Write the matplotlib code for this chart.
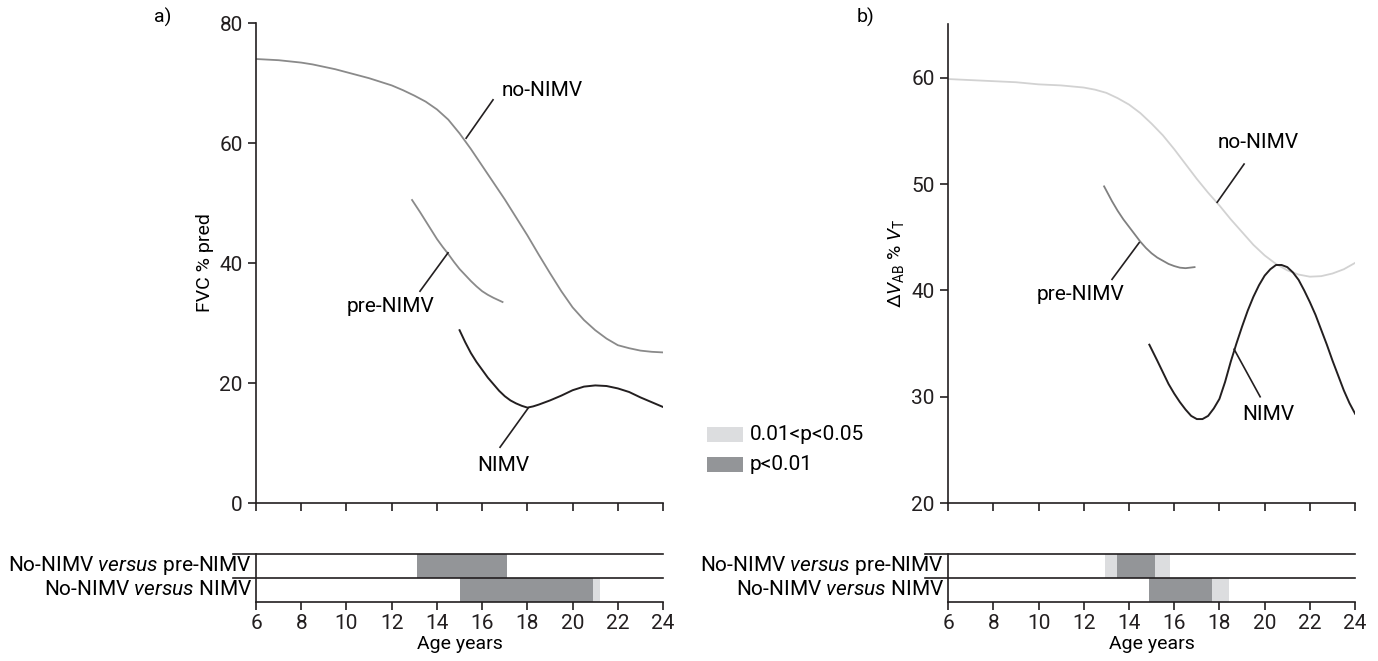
import matplotlib
matplotlib.use("Agg")
import matplotlib.pyplot as plt
from matplotlib.patches import Rectangle

plt.rcParams["font.family"] = ["Roboto", "DejaVu Sans"]
plt.rcParams["font.size"] = 14
plt.rcParams["mathtext.fontset"] = "custom"
plt.rcParams["mathtext.rm"] = "Roboto"
plt.rcParams["mathtext.it"] = "Roboto:italic"

# panel a: FVC % pred
a_no_age = [6, 6.5, 7, 7.5, 8, 8.5, 9, 9.5, 10, 10.5, 11, 11.5, 12, 12.5, 13, 13.5,
            14, 14.5, 15, 15.5, 16, 16.5, 17, 17.5, 18, 18.5, 19, 19.5, 20, 20.5,
            21, 21.5, 22, 22.5, 23, 23.5, 24]
a_no_val = [74.0, 73.9, 73.8, 73.6, 73.4, 73.1, 72.7, 72.3, 71.8, 71.3, 70.8, 70.2,
            69.6, 68.8, 67.9, 66.9, 65.6, 63.9, 61.6, 59.0, 56.2, 53.4, 50.6, 47.6,
            44.6, 41.4, 38.3, 35.3, 32.6, 30.5, 28.8, 27.4, 26.3, 25.8, 25.4, 25.2, 25.1]
a_pre_age = [12.9, 13.25, 13.5, 13.75, 14, 14.25, 14.5, 14.75, 15, 15.25, 15.5,
             15.75, 16, 16.25, 16.5, 16.9]
a_pre_val = [50.5, 48.5, 47.0, 45.5, 44.0, 42.7, 41.5, 40.2, 39.0, 38.0, 37.0,
             36.1, 35.3, 34.7, 34.2, 33.5]
a_nimv_age = [15, 15.25, 15.5, 15.75, 16, 16.25, 16.5, 16.75, 17, 17.25, 17.5, 17.75,
              18, 18.25, 18.5, 19, 19.5, 20, 20.5, 21, 21.5, 22, 22.5, 23, 23.5, 24]
a_nimv_val = [28.8, 26.8, 25.0, 23.5, 22.2, 20.9, 19.8, 18.7, 17.8, 17.1, 16.6, 16.2,
              15.9, 16.1, 16.4, 17.1, 17.9, 18.8, 19.4, 19.6, 19.5, 19.1, 18.5, 17.6,
              16.8, 16.0]

# panel b: dVab % Vt
b_no_age = [6, 7, 8, 9, 10, 11, 12, 12.5, 13, 13.5, 14, 14.5, 15, 15.5, 16, 16.5,
            17, 17.5, 18, 18.5, 19, 19.5, 20, 20.5, 21, 21.5, 22, 22.5, 23, 23.5, 24]
b_no_val = [59.9, 59.8, 59.7, 59.6, 59.4, 59.3, 59.1, 58.9, 58.6, 58.1, 57.5, 56.7,
            55.7, 54.6, 53.3, 51.9, 50.5, 49.2, 48.0, 46.7, 45.5, 44.3, 43.3, 42.5,
            41.9, 41.5, 41.3, 41.35, 41.6, 42.0, 42.6]
b_pre_age = [12.9, 13.25, 13.5, 13.75, 14, 14.25, 14.5, 14.75, 15, 15.25, 15.5,
             15.75, 16, 16.25, 16.5, 16.9]
b_pre_val = [49.8, 48.4, 47.5, 46.7, 46.0, 45.3, 44.6, 44.0, 43.5, 43.1, 42.8,
             42.5, 42.3, 42.15, 42.1, 42.2]
b_nimv_age = [14.9, 15.25, 15.5, 15.75, 16, 16.25, 16.5, 16.75, 17, 17.25, 17.5, 17.75,
              18, 18.25, 18.5, 18.75, 19, 19.25, 19.5, 19.75, 20, 20.25, 20.5, 20.75,
              21, 21.25, 21.5, 21.75, 22, 22.25, 22.5, 22.75, 23, 23.25, 23.5, 23.75, 24]
b_nimv_val = [34.9, 33.4, 32.3, 31.2, 30.3, 29.5, 28.8, 28.2, 27.9, 27.9, 28.2, 28.9,
              29.8, 31.4, 33.3, 35.0, 36.6, 38.1, 39.4, 40.5, 41.4, 42.0, 42.4, 42.4,
              42.2, 41.7, 41.0, 40.0, 38.9, 37.7, 36.3, 34.9, 33.4, 32.0, 30.6, 29.4, 28.4]

# significance bands: (start, end, level) ; 'd' = p<0.01, 'l' = 0.01<p<0.05
a_row_pre = [(13.1, 17.1, "d")]
a_row_nimv = [(15.0, 20.9, "d"), (20.9, 21.2, "l")]
b_row_pre = [(12.95, 13.47, "l"), (13.47, 15.15, "d"), (15.15, 15.82, "l")]
b_row_nimv = [(14.89, 17.68, "d"), (17.68, 18.43, "l")]

row_labels = ["No-NIMV $\\mathit{versus}$ pre-NIMV", "No-NIMV $\\mathit{versus}$ NIMV"]
xticks = [6, 8, 10, 12, 14, 16, 18, 20, 22, 24]

DARK = "#939598"
LIGHT = "#dcdddf"
INK = "#231f20"
colors = {"d": DARK, "l": LIGHT}

fig = plt.figure(figsize=(13.78, 6.61), dpi=100)


def style_main(ax, ylim, yticks):
    ax.set_xlim(6, 24)
    ax.set_ylim(*ylim)
    ax.set_xticks(xticks)
    ax.set_xticklabels([])
    ax.set_yticks(yticks)
    for s in ["top", "right"]:
        ax.spines[s].set_visible(False)
    for s in ["left", "bottom"]:
        ax.spines[s].set_linewidth(1.2)
        ax.spines[s].set_color(INK)
    ax.tick_params(length=6, width=1.2, color=INK, labelcolor=INK, labelsize=15)


def strip(ax, rows):
    ax.set_xlim(6, 24)
    ax.set_ylim(0, 2)
    for (rowdata, y0) in zip(rows, [1, 0]):
        for (s, e, lev) in rowdata:
            ax.add_patch(Rectangle((s, y0), e - s, 1, facecolor=colors[lev],
                                   edgecolor="none"))
    for y in [1, 2]:
        ax.plot([5.0, 24], [y, y], color=INK, lw=1.2, clip_on=False)
    for s in ["top", "right"]:
        ax.spines[s].set_visible(False)
    for s in ["left", "bottom"]:
        ax.spines[s].set_linewidth(1.2)
        ax.spines[s].set_color(INK)
    ax.set_yticks([])
    ax.set_xticks(xticks)
    ax.tick_params(axis="x", length=6, width=1.2, color=INK, labelcolor=INK,
                   labelsize=15, pad=3)
    ax.set_xlabel("Age years", labelpad=1)
    ax.text(-0.01, 0.75, row_labels[0], transform=ax.transAxes, ha="right",
            va="center", fontsize=15)
    ax.text(-0.01, 0.25, row_labels[1], transform=ax.transAxes, ha="right",
            va="center", fontsize=15)


# ---- panel a
ax1 = fig.add_axes([0.1858, 0.2390, 0.2954, 0.7262])
ax1.plot(a_no_age, a_no_val, color="#8a8a8a", lw=1.3)
ax1.plot(a_pre_age, a_pre_val, color="#8a8a8a", lw=1.3)
ax1.plot(a_nimv_age, a_nimv_val, color=INK, lw=1.4)
style_main(ax1, (0, 80), [0, 20, 40, 60, 80])
ax1.set_ylabel("FVC % pred", labelpad=4)
ax1.plot([15.29, 16.48], [60.8, 67.2], color=INK, lw=1.2)
ax1.text(18.65, 68.8, "no-NIMV", ha="center", va="center", fontsize=15)
ax1.plot([14.49, 13.25], [41.7, 35.3], color=INK, lw=1.2)
ax1.text(11.93, 32.7, "pre-NIMV", ha="center", va="center", fontsize=15)
ax1.plot([18.03, 16.79], [15.8, 9.3], color=INK, lw=1.2)
ax1.text(16.92, 6.3, "NIMV", ha="center", va="center", fontsize=15)
fig.text(163 / 1378, 1 - 17 / 661, "a)", ha="center", va="center")

sa = fig.add_axes([0.1858, 0.0893, 0.2954, 0.0726])
strip(sa, [a_row_pre, a_row_nimv])

# ---- panel b
ax2 = fig.add_axes([0.6880, 0.2390, 0.2954, 0.7247])
ax2.plot(b_no_age, b_no_val, color="#d2d2d2", lw=1.3)
ax2.plot(b_pre_age, b_pre_val, color="#808080", lw=1.3)
ax2.plot(b_nimv_age, b_nimv_val, color=INK, lw=1.4)
style_main(ax2, (20, 65.08), [20, 30, 40, 50, 60])
ax2.set_ylabel("$\\Delta\\mathit{V}_{\\mathrm{AB}}$ % $\\mathit{V}_{\\mathrm{T}}$", labelpad=4)
ax2.plot([19.09, 17.9], [51.9, 48.3], color=INK, lw=1.2)
ax2.text(19.71, 53.9, "no-NIMV", ha="center", va="center", fontsize=15)
ax2.plot([14.45, 13.25], [44.5, 41.05], color=INK, lw=1.2)
ax2.text(11.84, 39.6, "pre-NIMV", ha="center", va="center", fontsize=15)
ax2.plot([18.65, 19.8], [34.47, 30.0], color=INK, lw=1.2)
ax2.text(20.15, 28.3, "NIMV", ha="center", va="center", fontsize=15)
fig.text(866 / 1378, 1 - 17 / 661, "b)", ha="center", va="center")

sb = fig.add_axes([0.6880, 0.0893, 0.2954, 0.0726])
strip(sb, [b_row_pre, b_row_nimv])

# ---- legend
fig.patches.append(Rectangle((707 / 1378, 1 - 442 / 661), 36 / 1378, 15 / 661,
                             transform=fig.transFigure, facecolor=LIGHT, edgecolor="none"))
fig.patches.append(Rectangle((707 / 1378, 1 - 472 / 661), 36 / 1378, 15 / 661,
                             transform=fig.transFigure, facecolor=DARK, edgecolor="none"))
fig.text(750 / 1378, 1 - 435 / 661, "0.01<p<0.05", ha="left", va="center", fontsize=15)
fig.text(750 / 1378, 1 - 465 / 661, "p<0.01", ha="left", va="center", fontsize=15)

fig.savefig("out.png", dpi=100)
